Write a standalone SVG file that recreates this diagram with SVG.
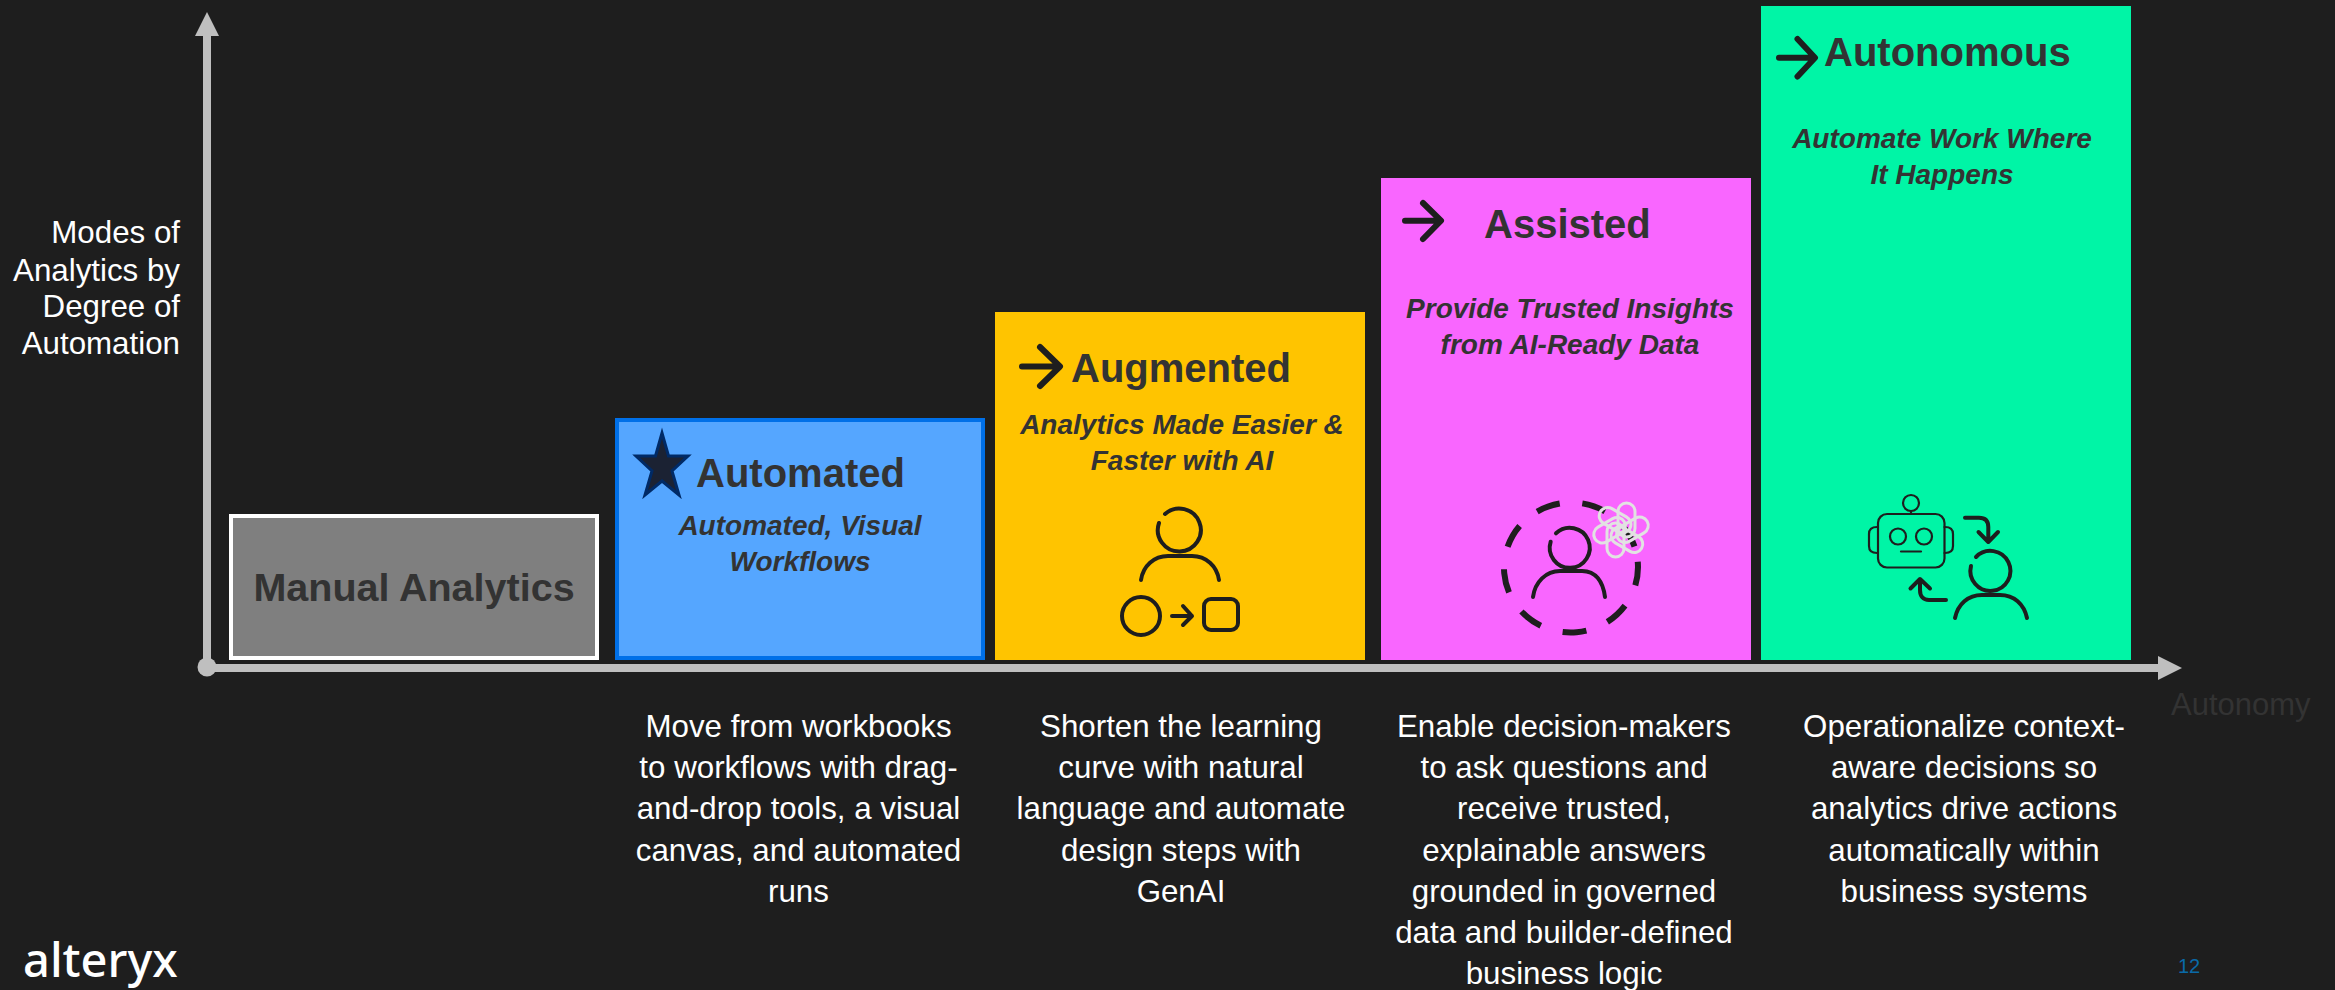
<svg xmlns="http://www.w3.org/2000/svg" width="2335" height="990" viewBox="0 0 2335 990">
<style>
text{font-family:"Liberation Sans",Arial,sans-serif}
.title{font-size:40px;font-weight:700;fill:#333}
.sub{font-size:28px;font-weight:700;font-style:italic;fill:#333;text-anchor:middle}
.desc{font-size:31.300px;fill:#fff;text-anchor:middle}
.axis{font-size:31.300px;fill:#fff;text-anchor:end}
.ic{fill:none;stroke:#1e1e1e;stroke-width:4;stroke-linecap:round;stroke-linejoin:round}
.thin{stroke-width:2.2}
.go{fill:none;stroke:#1e1e1e;stroke-width:6;stroke-linecap:round;stroke-linejoin:round}
.knot{fill:none;stroke:#e2e2e2;stroke-width:3}
</style>
<rect width="2335" height="990" fill="#1e1e1e"/>
<g id="connectors">
<path d="M207 668V34" stroke="#bfbfbf" stroke-width="8" fill="none"/>
<path d="M207 12L219 36H195Z" fill="#bfbfbf"/>
<path d="M207 668H2160" stroke="#bfbfbf" stroke-width="8" fill="none"/>
<path d="M2182 668L2158 656V680Z" fill="#bfbfbf"/>
<circle cx="207" cy="667" r="9.500" fill="#bfbfbf"/>
</g>
<g id="axis-y-label">
<text class="axis" x="180" y="243">Modes of</text>
<text class="axis" x="180" y="281">Analytics by</text>
<text class="axis" x="180" y="317">Degree of</text>
<text class="axis" x="180" y="354">Automation</text>
</g>
<g id="axis-x-label"><text x="2171" y="715" font-size="31" fill="#333">Autonomy</text></g>
<g id="manual">
<rect x="231" y="516" width="366" height="142" fill="#7f7f7f" stroke="#fff" stroke-width="4"/>
<text class="title" x="414" y="601" text-anchor="middle" style="font-size:39.500px">Manual Analytics</text>
</g>
<g id="automated">
<rect x="617" y="420" width="366" height="238" fill="#55a6ff" stroke="#0070e8" stroke-width="4"/>
<path d="M662 433L668.500 456H688L672 471L679 495L662 481L645 495L652 471L636 456H655.500Z" fill="#1b2233" stroke="#002a66" stroke-width="3"/>
<text class="title" x="696" y="487">Automated</text>
<text class="sub" x="800" y="535">Automated, Visual</text>
<text class="sub" x="800" y="571">Workflows</text>
</g>
<g id="augmented">
<rect x="995" y="312" width="370" height="348" fill="#ffc400"/>
<path class="go" d="M1022 366.500H1059M1040 347L1060 366.500L1040 386"/>
<text class="title" x="1071" y="382">Augmented</text>
<text class="sub" x="1182" y="434">Analytics Made  Easier &amp;</text>
<text class="sub" x="1182" y="470">Faster with AI</text>
<path class="ic" d="M1165 514A21.500 21.500 0 1 1 1159 523"/>
<path class="ic" d="M1141 580C1143 566 1154 556 1168 556H1192C1206 556 1217 566 1219 580"/>
<circle class="ic" cx="1141" cy="616" r="19"/>
<path class="ic" d="M1172 616H1192M1183 606L1192 616L1183 625"/>
<rect class="ic" x="1204" y="599" width="34" height="31" rx="7"/>
</g>
<g id="assisted">
<rect x="1381" y="178" width="370" height="482" fill="#f966ff"/>
<path class="go" d="M1405 220.700H1440M1423 203L1441 220.700L1423 239"/>
<text class="title" x="1484" y="238">Assisted</text>
<text class="sub" x="1570" y="318">Provide Trusted Insights</text>
<text class="sub" x="1570" y="354">from AI-Ready Data</text>
<ellipse cx="1571" cy="567.500" rx="67" ry="65" fill="none" stroke="#1e1e1e" stroke-width="6" stroke-dasharray="24 22.800" transform="rotate(-5 1571 567.500)"/>
<path class="ic" d="M1556 533.300A20 20 0 1 1 1550.700 541.700"/>
<path class="ic" d="M1533 597C1535 582 1546 571 1560 571H1582C1596 571 1603 582 1605 597"/>
<g transform="translate(1621 530)">
<rect class="knot" x="-3" y="-27" width="17" height="34" rx="8.500"/>
<rect class="knot" x="-3" y="-27" width="17" height="34" rx="8.500" transform="rotate(60)"/>
<rect class="knot" x="-3" y="-27" width="17" height="34" rx="8.500" transform="rotate(120)"/>
<rect class="knot" x="-3" y="-27" width="17" height="34" rx="8.500" transform="rotate(180)"/>
<rect class="knot" x="-3" y="-27" width="17" height="34" rx="8.500" transform="rotate(240)"/>
<rect class="knot" x="-3" y="-27" width="17" height="34" rx="8.500" transform="rotate(300)"/>
</g>
</g>
<g id="autonomous">
<rect x="1761" y="6" width="370" height="654" fill="#00f5a6"/>
<path class="go" d="M1779 57.700H1814M1797.500 39L1815 57.700L1797.500 76.500"/>
<text class="title" x="1824" y="66">Autonomous</text>
<text class="sub" x="1942" y="148">Automate Work Where</text>
<text class="sub" x="1942" y="184">It Happens</text>
<rect class="ic thin" x="1878" y="514" width="66.500" height="53.500" rx="9"/>
<circle class="ic thin" cx="1911" cy="503" r="8"/>
<path class="ic thin" d="M1911 511V514M1878 527H1877C1871 527 1869 530 1869 534V546C1869 550 1871 553 1877 553H1878M1944.500 527H1945C1951 527 1953 530 1953 534V546C1953 550 1951 553 1945 553H1944.500"/>
<circle class="ic thin" cx="1898" cy="536.500" r="8"/>
<circle class="ic thin" cx="1924" cy="536.500" r="8"/>
<path class="ic thin" d="M1901 551.500H1921"/>
<path class="ic" d="M1965 517.700H1979C1985 517.700 1988.300 521 1988.300 527V541M1978.500 532L1988.300 542L1998 532"/>
<path class="ic" d="M1946 600H1929C1923 600 1920 596 1920 590V580M1910.500 588.500L1920 579L1930 588.500"/>
<path class="ic" d="M1976 557A20 20 0 1 1 1971 566"/>
<path class="ic" d="M1955 618C1958 604 1968 595 1982 595H2000C2014 595 2024 604 2027 618"/>
</g>
<g id="descriptions">
<text class="desc"><tspan x="798.500" y="737">Move from workbooks</tspan><tspan x="798.500" y="778">to workflows with drag-</tspan><tspan x="798.500" y="819">and-drop tools, a visual</tspan><tspan x="798.500" y="861">canvas, and automated</tspan><tspan x="798.500" y="902">runs</tspan></text>
<text class="desc"><tspan x="1181" y="737">Shorten the learning</tspan><tspan x="1181" y="778">curve with natural</tspan><tspan x="1181" y="819">language and automate</tspan><tspan x="1181" y="861">design steps with</tspan><tspan x="1181" y="902">GenAI</tspan></text>
<text class="desc"><tspan x="1564" y="737">Enable decision-makers</tspan><tspan x="1564" y="778">to ask questions and</tspan><tspan x="1564" y="819">receive trusted,</tspan><tspan x="1564" y="861">explainable answers</tspan><tspan x="1564" y="902">grounded in governed</tspan><tspan x="1564" y="943">data and builder-defined</tspan><tspan x="1564" y="984">business logic</tspan></text>
<text class="desc"><tspan x="1964" y="737">Operationalize context-</tspan><tspan x="1964" y="778">aware decisions so</tspan><tspan x="1964" y="819">analytics drive actions</tspan><tspan x="1964" y="861">automatically within</tspan><tspan x="1964" y="902">business systems</tspan></text>
</g>
<g id="logo"><text x="23" y="977" style="font-family:'Noto Sans',sans-serif" font-size="47" font-weight="500" fill="#fff">alteryx</text></g>
<g id="page-number"><text x="2178" y="973" font-size="20" fill="#0a6aa8">12</text></g>
</svg>
